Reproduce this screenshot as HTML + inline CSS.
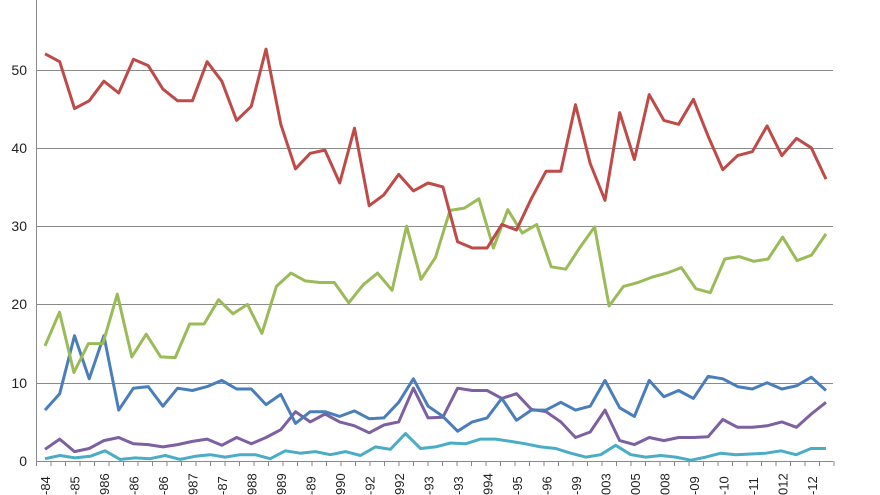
<!DOCTYPE html>
<html><head><meta charset="utf-8"><style>
html,body{margin:0;padding:0;background:#fff;width:880px;height:495px;overflow:hidden}
svg{display:block}
text{font-family:"Liberation Sans",sans-serif;fill:#222}
</style></head><body>
<svg id="c" width="880" height="495" xmlns="http://www.w3.org/2000/svg">
<g stroke="#8a8a8a" stroke-width="1">
<line x1="36" y1="70.5" x2="833" y2="70.5"/>
<line x1="36" y1="148.5" x2="833" y2="148.5"/>
<line x1="36" y1="226.5" x2="833" y2="226.5"/>
<line x1="36" y1="304.5" x2="833" y2="304.5"/>
<line x1="36" y1="383.5" x2="833" y2="383.5"/>
<line x1="36" y1="461.5" x2="833" y2="461.5"/>
<line x1="36.5" y1="0" x2="36.5" y2="462"/>
</g>
<g font-size="14" text-anchor="end">
<text x="27" y="75">50</text><text x="27" y="153">40</text><text x="27" y="231">30</text>
<text x="27" y="309">20</text><text x="27" y="388">10</text><text x="27" y="466">0</text>
</g>
<g id="ticks" stroke="#8a8a8a"></g>
<g id="lbl" font-size="13"></g>
<g id="lines" fill="none" stroke-width="3" stroke-linejoin="round"></g>
</svg>
<script>
var ns="http://www.w3.org/2000/svg";
function Y(v){return 461-v*7.83}
var S=[
["#4bacc6",[0.3,0.7,0.4,0.6,1.3,0.2,0.4,0.3,0.7,0.2,0.6,0.8,0.5,0.8,0.8,0.3,1.3,1,1.2,0.8,1.2,0.7,1.8,1.5,3.5,1.6,1.8,2.3,2.2,2.8,2.8,2.5,2.2,1.8,1.6,1,0.5,0.8,2,0.8,0.5,0.7,0.5,0.1,0.5,1,0.8,0.9,1,1.3,0.8,1.6,1.6]],
["#7d60a0",[1.5,2.8,1.2,1.6,2.6,3,2.2,2.1,1.8,2.1,2.5,2.8,2,3,2.2,3,4,6.3,5,6,5,4.5,3.6,4.6,5,9.3,5.5,5.6,9.3,9,9,8,8.6,6.6,6.3,5,3,3.7,6.5,2.6,2.1,3,2.6,3,3,3.1,5.3,4.3,4.3,4.5,5,4.3,6,7.5]],
["#4a7ebb",[6.5,8.6,16,10.5,16,6.5,9.3,9.5,7,9.3,9,9.5,10.3,9.2,9.2,7.2,8.5,4.8,6.3,6.3,5.7,6.4,5.4,5.5,7.5,10.5,7,5.7,3.8,5,5.5,8,5.2,6.5,6.5,7.5,6.5,7,10.3,6.8,5.7,10.3,8.2,9,8,10.8,10.5,9.5,9.2,10,9.2,9.6,10.7,9]],
["#9bbb59",[14.7,19,11.3,15,15,21.3,13.3,16.2,13.3,13.2,17.5,17.5,20.6,18.8,20,16.3,22.3,24,23,22.8,22.8,20.2,22.5,24,21.8,30,23.2,26,32,32.3,33.5,27.2,32.1,29.1,30.2,24.8,24.5,27.3,29.9,19.8,22.3,22.8,23.5,24,24.7,22,21.5,25.8,26.1,25.5,25.8,28.6,25.6,26.3,29]],
["#be4b48",[52,51,45,46,48.5,47,51.3,50.5,47.5,46,46,51,48.5,43.5,45.3,52.6,43,37.3,39.3,39.7,35.5,42.5,32.6,34,36.6,34.5,35.5,35,28,27.2,27.2,30.2,29.5,33.5,37,37,45.5,38,33.3,44.5,38.5,46.8,43.5,43,46.2,41.5,37.2,39,39.5,42.8,39,41.2,40,36]]];
var g=document.getElementById("lines");
S.forEach(function(s){var d=s[1],n=d.length,p=[];
for(var i=0;i<n;i++){p.push((45+i*(781/(n-1))).toFixed(1)+","+Y(d[i]).toFixed(1))}
var e=document.createElementNS(ns,"polyline");e.setAttribute("points",p.join(" "));e.setAttribute("stroke",s[0]);g.appendChild(e)});
var t=document.getElementById("ticks");
for(var i=0;i<56;i++){var x=36.5+i*14.5;var l=document.createElementNS(ns,"line");l.setAttribute("x1",x);l.setAttribute("x2",x);l.setAttribute("y1",461);l.setAttribute("y2",466);t.appendChild(l)}
var L=["-84","-85","986","-86","-86","987","-87","988","989","-89","990","-92","992","-93","-93","994","-95","-96","-99","003","005","008","-09","-10","-11","012","-12"];
var lg=document.getElementById("lbl");
L.forEach(function(s,i){var x=50+i*29.5;var e=document.createElementNS(ns,"text");e.setAttribute("transform","translate("+x+",495) rotate(-90)");e.setAttribute("x",0);e.setAttribute("y",0);e.textContent=s;lg.appendChild(e)});
</script>
</body></html>
